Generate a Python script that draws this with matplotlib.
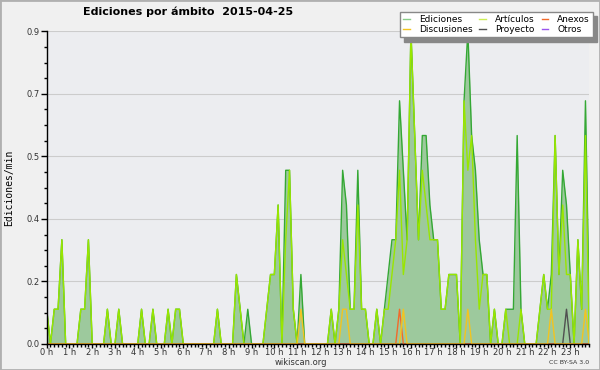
import matplotlib.pyplot as plt
import numpy as np
from matplotlib.lines import Line2D
from matplotlib.patches import Rectangle
from matplotlib.ticker import MultipleLocator, FixedLocator, FuncFormatter

# edits per minute in 10-minute bins, 0:00 -> 23:50
ediciones = [
    0.1, 0, 0.1, 0.1, 0.3, 0, 0, 0, 0, 0.1, 0.1, 0.3,
    0, 0, 0, 0, 0.1, 0, 0, 0.1, 0, 0, 0, 0,
    0, 0.1, 0, 0, 0.1, 0, 0, 0, 0.1, 0, 0.1, 0.1,
    0, 0, 0, 0, 0, 0, 0, 0, 0, 0.1, 0, 0,
    0, 0, 0.2, 0.1, 0, 0.1, 0, 0, 0, 0, 0.1, 0.2,
    0.2, 0.4, 0, 0.5, 0.5, 0.1, 0, 0.2, 0, 0, 0, 0,
    0, 0, 0, 0.1, 0, 0.1, 0.5, 0.4, 0.1, 0.1, 0.5, 0.1,
    0.1, 0, 0, 0.1, 0, 0.1, 0.2, 0.3, 0.3, 0.7, 0.5, 0.3,
    0.9, 0.6, 0.3, 0.6, 0.6, 0.4, 0.3, 0.3, 0.1, 0.1, 0.2, 0.2,
    0.2, 0, 0.7, 0.9, 0.6, 0.5, 0.3, 0.2, 0.2, 0, 0.1, 0,
    0, 0.1, 0.1, 0.1, 0.6, 0.1, 0, 0, 0, 0, 0.1, 0.2,
    0.1, 0.2, 0.6, 0.2, 0.5, 0.4, 0.2, 0, 0.3, 0.1, 0.7, 0.1,
]
articulos = [
    0.1, 0, 0.1, 0.1, 0.3, 0, 0, 0, 0, 0.1, 0.1, 0.3,
    0, 0, 0, 0, 0.1, 0, 0, 0.1, 0, 0, 0, 0,
    0, 0.1, 0, 0, 0.1, 0, 0, 0, 0.1, 0, 0.1, 0.1,
    0, 0, 0, 0, 0, 0, 0, 0, 0, 0.1, 0, 0,
    0, 0, 0.2, 0.1, 0, 0, 0, 0, 0, 0, 0.1, 0.2,
    0.2, 0.4, 0, 0.3, 0.5, 0.1, 0, 0, 0, 0, 0, 0,
    0, 0, 0, 0.1, 0, 0.1, 0.3, 0.2, 0.1, 0.1, 0.4, 0.1,
    0.1, 0, 0, 0.1, 0, 0.1, 0.1, 0.2, 0.3, 0.5, 0.2, 0.3,
    0.9, 0.6, 0.3, 0.5, 0.4, 0.3, 0.3, 0.3, 0.1, 0.1, 0.2, 0.2,
    0.2, 0, 0.7, 0.5, 0.6, 0.3, 0.1, 0.2, 0.2, 0, 0.1, 0,
    0, 0.1, 0, 0, 0, 0.1, 0, 0, 0, 0, 0.1, 0.2,
    0.1, 0.1, 0.6, 0.2, 0.4, 0.2, 0.2, 0, 0.3, 0.1, 0.6, 0,
]
# sparse series: bin index -> value
discusiones_bins = [67, 78, 79, 94, 111, 133, 142]
discusiones_vals = [0.1, 0.1, 0.1, 0.1, 0.1, 0.1, 0.1]
anexos_bins = [93]
anexos_vals = [0.1]
proyecto_bins = [137]
proyecto_vals = [0.1]

hour_labels = ["%d h" % h for h in range(24)]

n = len(ediciones)
hours = np.arange(n) / 6.0


def dense(bins, vals):
    out = np.zeros(n)
    out[bins] = vals
    return out


discusiones = dense(discusiones_bins, discusiones_vals)
anexos = dense(anexos_bins, anexos_vals)
proyecto = dense(proyecto_bins, proyecto_vals)
otros = np.zeros(n)

c_edic = "#34a834"
c_fill = "#9dc99d"
c_art = "#99e600"
c_disc = "#f2c420"
c_anex = "#f26a2a"
c_proy = "#505050"
c_otros = "#9955ee"

fig = plt.figure(figsize=(6, 3.7), dpi=100, facecolor="#f0f0f0")
ax = fig.add_axes([0.0778, 0.0703, 0.9043, 0.8451])
ax.set_facecolor("#ecedf0")

ax.fill_between(hours, ediciones, color=c_fill, lw=0, zorder=2)
ax.plot(hours, ediciones, color=c_edic, lw=1.0, zorder=3)
ax.plot(hours, articulos, color=c_art, lw=1.0, zorder=4)
ax.plot(hours, otros, color=c_otros, lw=1.0, zorder=4, alpha=0)
ax.plot(hours, proyecto, color=c_proy, lw=1.0, zorder=5)
ax.plot(hours, anexos, color=c_anex, lw=1.0, zorder=5)
ax.plot(hours, discusiones, color=c_disc, lw=1.0, zorder=5)
ax.set_xlim(0, hours[-1])
ax.set_ylim(0, 0.9)

yt = np.arange(0, 0.91, 0.18)
ax.yaxis.set_major_locator(FixedLocator(yt))
ax.yaxis.set_major_formatter(FuncFormatter(lambda v, p: "%.1f" % v))
ax.yaxis.set_minor_locator(MultipleLocator(0.045))
ax.xaxis.set_major_locator(FixedLocator(range(24)))
ax.set_xticklabels(hour_labels)
ax.xaxis.set_minor_locator(MultipleLocator(1 / 6))

ax.grid(axis="y", color="#cccccc", lw=0.8, zorder=1)
ax.set_axisbelow(True)
for s in ["top", "right"]:
    ax.spines[s].set_visible(False)
for s in ["left", "bottom"]:
    ax.spines[s].set_color("black")
    ax.spines[s].set_linewidth(1.0)
    ax.spines[s].set_zorder(6)

ax.tick_params(axis="both", which="major", direction="out", length=4, width=1,
               labelsize=6, labelcolor="#333333", pad=1)
ax.tick_params(axis="x", which="major", length=3, pad=0)
ax.tick_params(axis="both", which="minor", direction="out", length=2.5, width=1)

fig.text(0.0155, 0.492, "Ediciones/min", family="DejaVu Sans Mono", fontsize=7,
         rotation=90, ha="center", va="center")
fig.text(0.313, 0.967, "Ediciones por ámbito  2015-04-25", ha="center", va="center",
         fontsize=8, fontweight="bold")
fig.text(0.501, 0.021, "wikiscan.org", ha="center", va="center", fontsize=6, color="#333333")
fig.text(0.982, 0.021, "CC BY-SA 3.0", ha="right", va="center", fontsize=4.5, color="#333333")

handles = [
    Line2D([], [], color="#88cc88", lw=1),
    Line2D([], [], color=c_disc, lw=1),
    Line2D([], [], color="#ccee55", lw=1),
    Line2D([], [], color=c_proy, lw=1),
    Line2D([], [], color=c_anex, lw=1),
    Line2D([], [], color=c_otros, lw=1),
]
labels = ["Ediciones", "Discusiones", "Artículos", "Proyecto", "Anexos", "Otros"]
leg = fig.legend(handles, labels, ncol=3, loc="upper right",
                 bbox_to_anchor=(0.988, 0.967), bbox_transform=fig.transFigure,
                 borderaxespad=0, fontsize=6.5, handlelength=0.7, handletextpad=1.0,
                 columnspacing=0.8, labelspacing=0.1, borderpad=0.35,
                 frameon=True, fancybox=False,
                 shadow={"ox": 3, "oy": -3, "color": "#888888", "alpha": 1})
leg.get_frame().set_edgecolor("#888888")
leg.get_frame().set_linewidth(1.0)
leg.get_frame().set_facecolor("white")

fig.patches.append(Rectangle((0, 0), 1, 1, transform=fig.transFigure, fill=False,
                             edgecolor="#b0b0b0", lw=2))

fig.savefig("out.png", dpi=100, facecolor=fig.get_facecolor())
